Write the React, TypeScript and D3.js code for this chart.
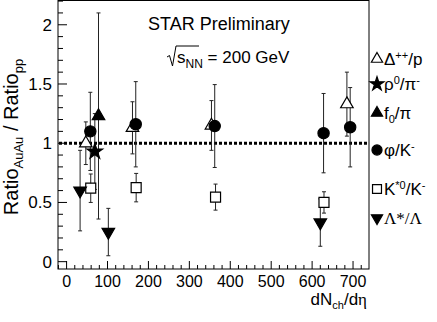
import React from 'react'
import * as d3 from 'd3'

// dN_ch/deta, ratio and error for each species
const deltaX = [47, 161, 354, 685]
const deltaY = [1.0, 1.13, 1.15, 1.33]
const deltaErr = [0.18, 0.22, 0.21, 0.27]

const rhoX = [69]
const rhoY = [0.93]
const rhoErr = [0.32]

const f0X = [78]
const f0Y = [1.23]
const f0Err = [0.87]

const phiX = [58, 169, 362, 628, 693]
const phiY = [1.1, 1.16, 1.145, 1.085, 1.135]
const phiErr = [0.33, 0.36, 0.35, 0.335, 0.335]

const kstarX = [59, 170, 364, 629]
const kstarY = [0.62, 0.625, 0.545, 0.5]
const kstarErr = [0.12, 0.12, 0.11, 0.09]

const lambdaX = [33, 102, 620]
const lambdaY = [0.6, 0.25, 0.33]
const lambdaErr = [0.34, 0.2, 0.2]

const xTicks = [0, 100, 200, 300, 400, 500, 600, 700]
const yTicks = [0, 0.5, 1, 1.5, 2]

const W = 437
const H = 322
const left = 58, right = 369, top = 0.5, bottom = 269

const x = d3.scaleLinear().domain([-21, 739]).range([left, right])
const y = d3.scaleLinear().domain([-0.062, 2.205]).range([bottom, top])

const sans = 'Liberation Sans, Arial, sans-serif'
const serif = 'Liberation Serif, Times New Roman, serif'

type Kind = 'tri' | 'star' | 'circle' | 'square' | 'tridown'

const symPath = (k: Kind, scale = 1) => {
  const g = d3.symbol()
  if (k === 'tri' || k === 'tridown') return g.type(d3.symbolTriangle).size(68 * scale)()
  if (k === 'star') return g.type(d3.symbolStar).size(75 * scale)()
  if (k === 'circle') return g.type(d3.symbolCircle).size(100 * scale)()
  return g.type(d3.symbolSquare).size(100 * scale)()
}

const Marker = ({ k, cx, cy, filled, scale = 1 }: { k: Kind; cx: number; cy: number; filled: boolean; scale?: number }) => (
  <path
    d={symPath(k, scale) as string}
    transform={`translate(${cx},${cy})${k === 'tridown' ? ' rotate(180)' : ''}`}
    fill={filled ? '#000' : '#fff'}
    stroke="#000"
    strokeWidth={1.2}
  />
)

const series = [
  { xs: deltaX, ys: deltaY, es: deltaErr, k: 'tri' as Kind, filled: false },
  { xs: kstarX, ys: kstarY, es: kstarErr, k: 'square' as Kind, filled: false },
  { xs: lambdaX, ys: lambdaY, es: lambdaErr, k: 'tridown' as Kind, filled: true },
  { xs: phiX, ys: phiY, es: phiErr, k: 'circle' as Kind, filled: true },
  { xs: f0X, ys: f0Y, es: f0Err, k: 'tri' as Kind, filled: true },
  { xs: rhoX, ys: rhoY, es: rhoErr, k: 'star' as Kind, filled: true },
]

const legend: { k: Kind; filled: boolean; cy: number; label: React.ReactNode }[] = [
  { k: 'tri', filled: false, cy: 59, label: <>Δ<tspan dy={-6} fontSize={11}>++</tspan><tspan dy={6}>/p</tspan></> },
  { k: 'star', filled: true, cy: 84, label: <>ρ<tspan dy={-6} fontSize={11}>0</tspan><tspan dy={6}>/π</tspan><tspan dy={-6} fontSize={11}>-</tspan></> },
  { k: 'tri', filled: true, cy: 113, label: <>f<tspan dy={4} fontSize={11}>0</tspan><tspan dy={-4}>/π</tspan></> },
  { k: 'circle', filled: true, cy: 150, label: <>φ/K<tspan dy={-6} fontSize={11}>-</tspan></> },
  { k: 'square', filled: false, cy: 189, label: <>K<tspan dy={-6} fontSize={11}>*0</tspan><tspan dy={6}>/K</tspan><tspan dy={-6} fontSize={11}>-</tspan></> },
  { k: 'tridown', filled: true, cy: 218, label: <tspan fontFamily={serif}>Λ*/Λ</tspan> },
]

export default function App() {
  const minorX = d3.range(-20, 740, 20).filter(v => v % 100 !== 0)
  const minorY = d3.range(0, 2.21, 0.1).map(v => +v.toFixed(2)).filter(v => Math.round(v * 10) % 5 !== 0)
  return (
    <svg width={W} height={H} style={{ position: 'absolute', left: 0, top: 0, background: '#fff' }} fontFamily={sans}>
      {/* frame */}
      <rect x={left} y={top} width={right - left} height={bottom - top} fill="none" stroke="#000" strokeWidth={1} />
      {/* ticks */}
      {xTicks.map(v => (
        <g key={'xt' + v}>
          <line x1={x(v)} x2={x(v)} y1={bottom} y2={bottom - 8} stroke="#000" />
          <text x={x(v)} y={287} fontSize={16} textAnchor="middle">{v}</text>
        </g>
      ))}
      {minorX.map(v => (
        <line key={'xm' + v} x1={x(v)} x2={x(v)} y1={bottom} y2={bottom - 4} stroke="#000" />
      ))}
      {yTicks.map(v => (
        <g key={'yt' + v}>
          <line x1={left} x2={left + 9} y1={y(v)} y2={y(v)} stroke="#000" />
          <text x={52} y={y(v) + 6} fontSize={17} textAnchor="end">{v}</text>
        </g>
      ))}
      {minorY.map(v => (
        <line key={'ym' + v} x1={left} x2={left + 5} y1={y(v)} y2={y(v)} stroke="#000" />
      ))}
      {/* reference line */}
      <line x1={left + 1} x2={right - 1} y1={y(1)} y2={y(1)} stroke="#000" strokeWidth={3} strokeDasharray="3 2" />
      {/* error bars */}
      {series.map((s, i) =>
        s.xs.map((xv, j) => {
          const cx = x(xv)
          const y1 = y(s.ys[j] + s.es[j])
          const y2 = y(s.ys[j] - s.es[j])
          return (
            <g key={`e${i}-${j}`} stroke="#222" strokeWidth={1}>
              <line x1={cx} x2={cx} y1={y1} y2={y2} />
              <line x1={cx - 2} x2={cx + 2} y1={y1} y2={y1} />
              <line x1={cx - 2} x2={cx + 2} y1={y2} y2={y2} />
            </g>
          )
        })
      )}
      {series.map((s, i) =>
        s.xs.map((xv, j) => (
          <Marker key={`m${i}-${j}`} k={s.k} cx={x(xv)} cy={y(s.ys[j])} filled={s.filled} />
        ))
      )}
      {/* annotations */}
      <text x={148} y={30} fontSize={18}>STAR Preliminary</text>
      <g fontSize={17}>
        <path d="M167,57 L169.5,55.5 L172.5,66 L176,46 L199,46" fill="none" stroke="#000" strokeWidth={1} />
        <text x={177} y={63}>s<tspan dy={5} fontSize={12}>NN</tspan><tspan dy={-5}> = 200 GeV</tspan></text>
      </g>
      {/* legend */}
      {legend.map((l, i) => (
        <g key={'lg' + i}>
          <Marker k={l.k} cx={377} cy={l.cy} filled={l.filled} scale={0.8} />
          <text x={384} y={l.cy + 6} fontSize={17}>{l.label}</text>
        </g>
      ))}
      {/* axis titles */}
      <text transform="translate(18,137) rotate(-90)" textAnchor="middle" fontSize={20}>
        Ratio<tspan dy={5} fontSize={13}>AuAu</tspan><tspan dy={-5}> / Ratio</tspan><tspan dy={5} fontSize={13}>pp</tspan>
      </text>
      <text x={367} y={305} textAnchor="end" fontSize={17}>
        dN<tspan dy={4} fontSize={11}>ch</tspan><tspan dy={-4}>/d</tspan><tspan fontFamily={serif}>η</tspan>
      </text>
    </svg>
  )
}
